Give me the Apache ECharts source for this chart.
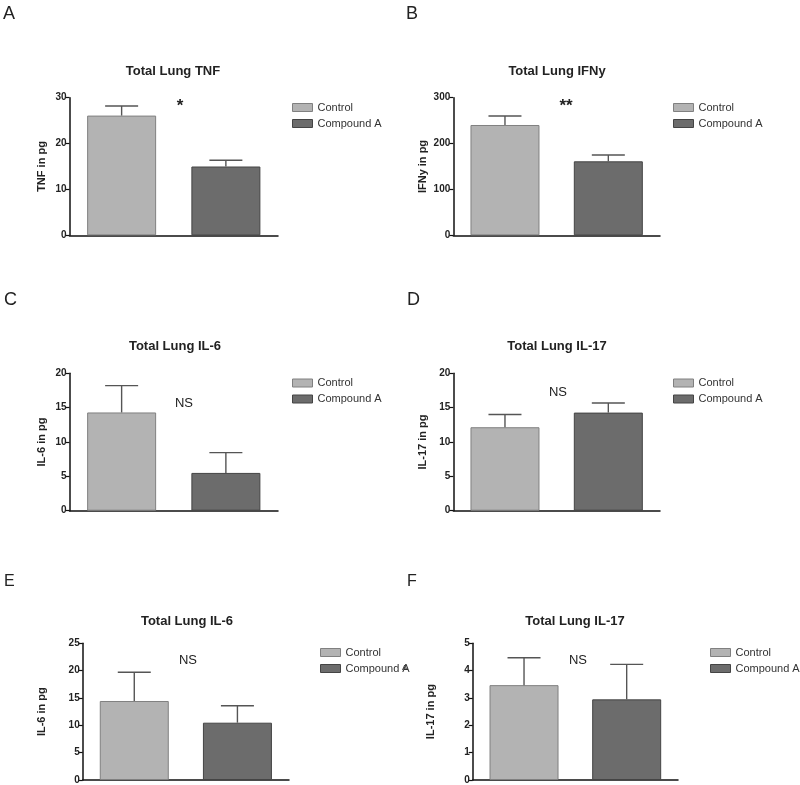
<!DOCTYPE html>
<html>
<head>
<meta charset="utf-8">
<script src="https://cdn.jsdelivr.net/npm/echarts@6/dist/echarts.min.js"></script>
<style>html,body{margin:0;padding:0;background:#fff}#c{width:800px;height:785px}</style>
</head>
<body>
<div id="c"></div>
<script>
// ---- data ----
const categories = ['Control', 'Compound A'];
const panelLetters = ['A', 'B', 'C', 'D', 'E', 'F'];
const panelTitles = ['Total Lung TNF', 'Total Lung IFNy', 'Total Lung IL-6', 'Total Lung IL-17', 'Total Lung IL-6', 'Total Lung IL-17'];
const yNames = ['TNF in pg', 'IFNy in pg', 'IL-6 in pg', 'IL-17 in pg', 'IL-6 in pg', 'IL-17 in pg'];
const controlMeans = [26.1, 240.5, 14.3, 12.15, 14.45, 3.47];
const controlSEM = [2.1, 19.5, 3.9, 1.85, 5.25, 1.0];
const compoundMeans = [15.0, 161.3, 5.5, 14.28, 10.48, 2.95];
const compoundSEM = [1.35, 13.7, 2.95, 1.4, 3.1, 1.28];
const yMax = [30, 300, 20, 20, 25, 5];
const yInterval = [10, 100, 5, 5, 5, 1];
const annotations = ['*', '**', 'NS', 'NS', 'NS', 'NS'];

// ---- layout ----
const grids = [
  {left: 69.5, right: 278, top: 97.7, bottom: 235.3},
  {left: 453.3, right: 660, top: 97.7, bottom: 235.3},
  {left: 69.5, right: 278, top: 373.3, bottom: 510.7},
  {left: 453.3, right: 660, top: 373.3, bottom: 510.7},
  {left: 82.7, right: 289, top: 643.3, bottom: 780},
  {left: 472.7, right: 678, top: 643.3, bottom: 780}
];
const nameGaps = [22, 25, 22.5, 25, 35.5, 36];
const titlePos = [[173, 71.7], [557, 71.7], [175, 346.7], [557, 346.7], [187, 621.7], [575, 621.7]];
const letterPos = [[3, 14], [406, 14], [4, 300], [407, 300], [4, 582], [407, 582]];
const letterSize = [18, 18, 18, 18, 16, 16];
const annPos = [[180, 103], [566, 103], [184, 403], [558, 392], [188, 660], [578, 660]];
const legendPos = [[292, 100.5], [673, 100.5], [292, 376], [673, 376], [320, 645.5], [710, 645.5]];

const colControl = '#b3b3b3', colCompound = '#6c6c6c';
const edgeControl = '#808080', edgeCompound = '#444';

const option = {
  animation: false,
  backgroundColor: '#fff',
  grid: [], xAxis: [], yAxis: [], series: [], legend: [], graphic: []
};

grids.forEach((g, i) => {
  option.grid.push({left: g.left, top: g.top, width: g.right - g.left, height: g.bottom - g.top, containLabel: false});
  option.xAxis.push({
    type: 'category', gridIndex: i, data: categories,
    axisLine: {lineStyle: {color: '#111', width: 1.5}},
    axisTick: {show: false}, axisLabel: {show: false}
  });
  option.yAxis.push({
    type: 'value', gridIndex: i, min: 0, max: yMax[i], interval: yInterval[i],
    name: yNames[i], nameLocation: 'middle', nameGap: nameGaps[i], nameRotate: 90,
    nameTextStyle: {fontFamily: 'Liberation Sans', fontWeight: 'bold', fontSize: 11, color: '#222'},
    axisLine: {show: true, lineStyle: {color: '#111', width: 1.5}},
    axisTick: {show: true, length: 4, lineStyle: {color: '#111', width: 1.2}},
    axisLabel: {fontFamily: 'Liberation Sans', fontWeight: 'bold', fontSize: 10, color: '#222', margin: 3},
    splitLine: {show: false}
  });
  option.series.push({
    name: 'Control', type: 'bar', xAxisIndex: i, yAxisIndex: i, stack: 's' + i, barWidth: 69,
    itemStyle: {color: colControl, borderColor: edgeControl, borderWidth: 1},
    data: [controlMeans[i], '-']
  });
  option.series.push({
    name: 'Compound A', type: 'bar', xAxisIndex: i, yAxisIndex: i, stack: 's' + i, barWidth: 69,
    itemStyle: {color: colCompound, borderColor: edgeCompound, borderWidth: 1},
    data: ['-', compoundMeans[i]]
  });
  option.series.push({
    type: 'custom', xAxisIndex: i, yAxisIndex: i, z: 5, silent: true,
    data: [[0, controlMeans[i], controlSEM[i]], [1, compoundMeans[i], compoundSEM[i]]],
    renderItem: function (params, api) {
      const c = api.value(0), m = api.value(1), e = api.value(2);
      const p0 = api.coord([c, m]);
      const p1 = api.coord([c, m + e]);
      const half = 16.5;
      const st = {stroke: '#555', lineWidth: 1.4};
      return {
        type: 'group', children: [
          {type: 'line', shape: {x1: p0[0], y1: p0[1], x2: p1[0], y2: p1[1]}, style: st},
          {type: 'line', shape: {x1: p1[0] - half, y1: p1[1], x2: p1[0] + half, y2: p1[1]}, style: st}
        ]
      };
    }
  });
  option.legend.push({
    orient: 'vertical', left: legendPos[i][0], top: legendPos[i][1], padding: 0,
    data: [
      {name: categories[0], itemStyle: {color: colControl, borderColor: edgeControl, borderWidth: 1}},
      {name: categories[1], itemStyle: {color: colCompound, borderColor: edgeCompound, borderWidth: 1}}
    ],
    icon: 'rect', itemWidth: 20, itemHeight: 8, itemGap: 2,
    selectedMode: false,
    textStyle: {fontFamily: 'Liberation Sans', fontSize: 11, color: '#333', lineHeight: 14}
  });
  option.graphic.push({
    type: 'text', x: titlePos[i][0], y: titlePos[i][1],
    style: {text: panelTitles[i], textAlign: 'center', textVerticalAlign: 'middle', font: 'bold 13px "Liberation Sans"', fill: '#222'}
  });
  option.graphic.push({
    type: 'text', x: letterPos[i][0], y: letterPos[i][1],
    style: {text: panelLetters[i], textAlign: 'left', textVerticalAlign: 'middle', font: letterSize[i] + 'px "Liberation Sans"', fill: '#222'}
  });
  const isStar = annotations[i].indexOf('*') >= 0;
  option.graphic.push({
    type: 'text', x: annPos[i][0], y: annPos[i][1] + (isStar ? 3 : 0),
    style: {text: annotations[i], textAlign: 'center', textVerticalAlign: 'middle',
      font: isStar ? 'bold 17px "Liberation Sans"' : '13px "Liberation Sans"', fill: '#222'}
  });
});
// stray label at left of panel F
option.graphic.push({type: 'text', x: 402, y: 668, style: {text: 'A', textAlign: 'left', textVerticalAlign: 'middle', font: '8px "Liberation Sans"', fill: '#333'}});

const chart = echarts.init(document.getElementById('c'), null, {renderer: 'canvas'});
chart.setOption(option);
</script>
</body>
</html>
